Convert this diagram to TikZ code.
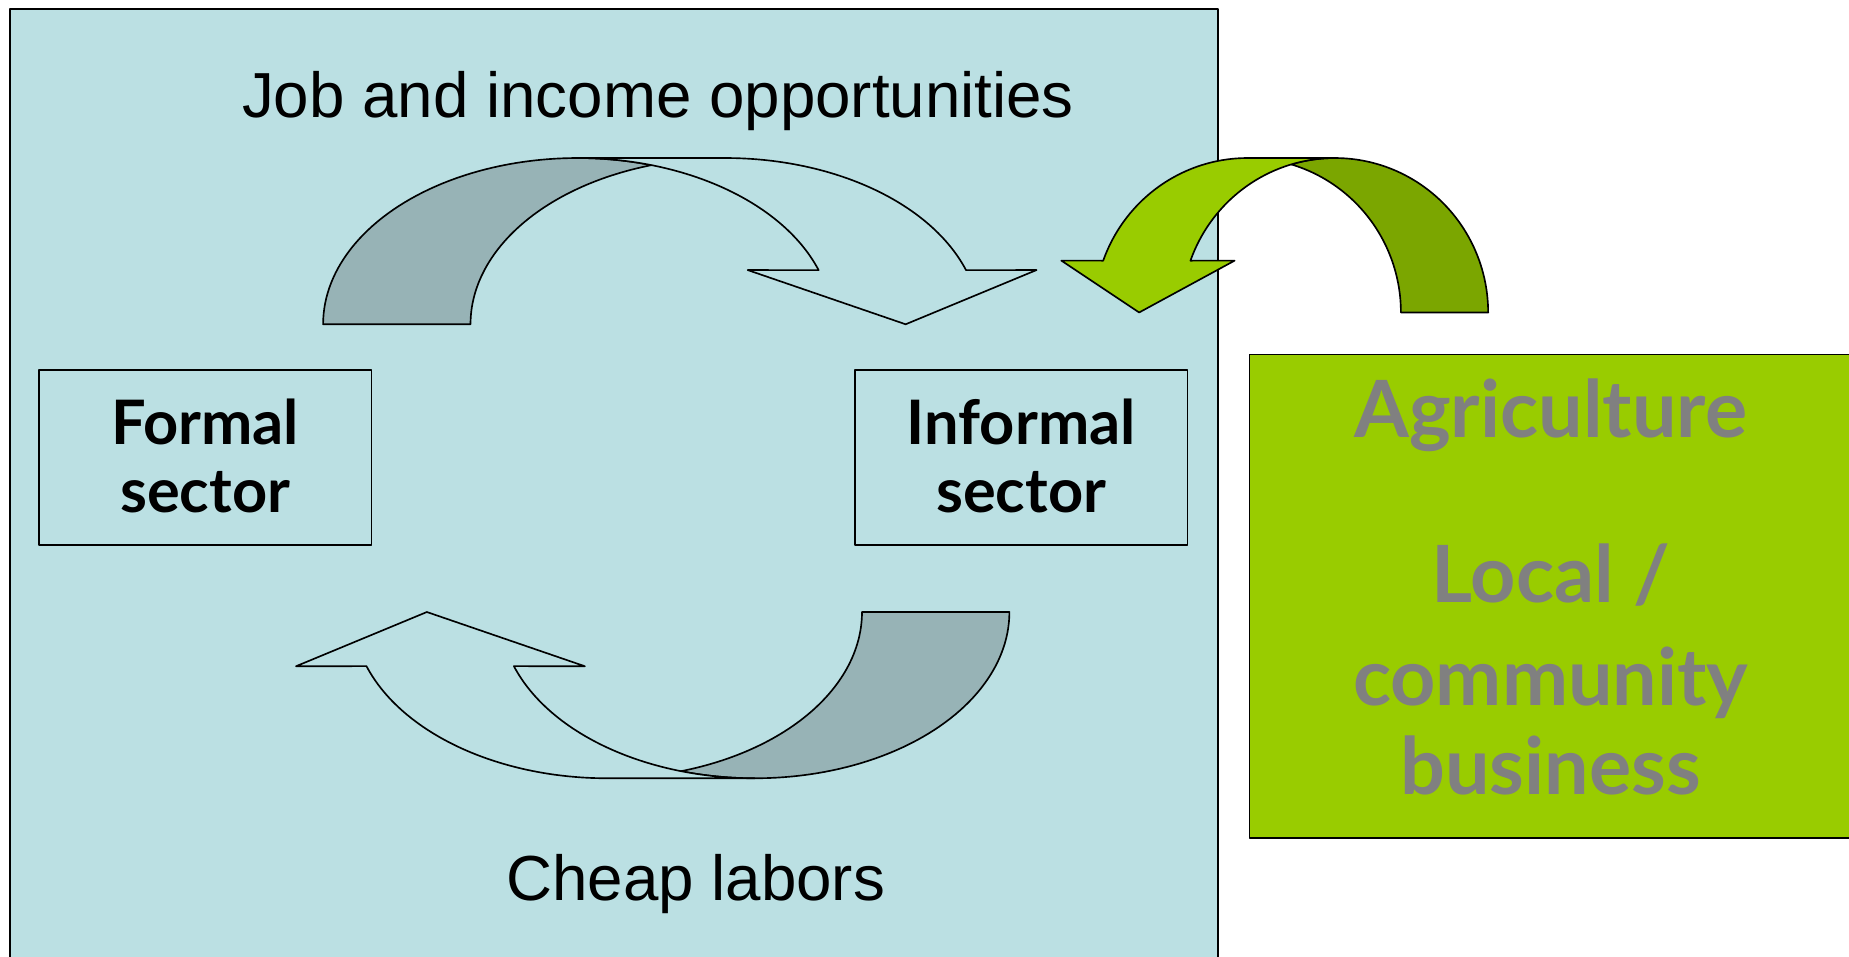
\documentclass[tikz,border=0pt]{standalone}
\usepackage{fontspec}
\setmainfont{Liberation Sans}
\newfontfamily\boxfont{Lato}
\definecolor{bgblue}{HTML}{BBE0E3}
\definecolor{shadeblue}{HTML}{97B3B6}
\definecolor{lgreen}{HTML}{99CC00}
\definecolor{dgreen}{HTML}{7BA600}
\definecolor{txtgray}{HTML}{808080}
\begin{document}
\begin{tikzpicture}[x=1pt,y=-1pt,line join=round,
  outl/.style={draw=black,line width=1.4pt},
  sectorbox/.style={draw=black,line width=1.4pt,fill=bgblue,minimum width=282pt,minimum height=148pt,inner sep=0pt},
  boxtext/.style={font=\boxfont\bfseries\fontsize{52}{58}\selectfont,anchor=base,inner sep=0pt},
  greentext/.style={font=\boxfont\bfseries\fontsize{67}{80}\selectfont,text=txtgray,anchor=base,inner sep=0pt},
  captext/.style={font=\fontsize{54}{62}\selectfont,anchor=base,inner sep=0pt}]
\useasboundingbox (0,0) rectangle (1568,811);
\fill[white] (0,0) rectangle (1568,811);
\begin{scope}
\clip (0,0) rectangle (1568,811);
\node[outl,fill=bgblue,minimum width=1024pt,minimum height=830pt,inner sep=0pt,anchor=north west] (main) at (8,7) {};
\node[outl,fill=lgreen,minimum width=560pt,minimum height=410pt,inner sep=0pt,anchor=north west] (green) at (1059,300) {};
\end{scope}
% boxes
\node[sectorbox] (formal) at (174,388) {};
\node[sectorbox] (informal) at (866,388) {};
\node[boxtext] (f1) at (174,377) {Formal};
\node[boxtext] (f2) at (174,435) {sector};
\node[boxtext] (i1) at (866,377) {Informal};
\node[boxtext] (i2) at (866,435) {sector};
% captions
\node[captext] (job) at (558,100) {Job and income opportunities};
\node[captext] (cheap) at (590,764) {Cheap labors};
% green text
\node[greentext] (agri) at (1315,371) {Agriculture};
\node[greentext] (local) at (1315,511) {Local /};
\node[greentext] (comm) at (1315,598) {community};
\node[greentext] (bus) at (1315,674) {business};
% top curved arrow
\draw[outl,fill=shadeblue] plot[domain=180:73.2,samples=60] ({490+216*cos(\x)},{275-141*sin(\x)})
  -- plot[domain=106.8:180,samples=60] ({615+216*cos(\x)},{275-141*sin(\x)}) -- cycle;
\draw[outl,fill=bgblue] (490,134) -- (615,134)
  -- plot[domain=90:19,samples=60] ({615+216*cos(\x)},{275-141*sin(\x)})
  -- (879,229) -- (768,275) -- (634,229)
  -- plot[domain=19:90,samples=60] ({490+216*cos(\x)},{275-141*sin(\x)}) -- cycle;
% bottom curved arrow (rotated copy)
\begin{scope}[rotate around={180:(565,397)}]
\draw[outl,fill=shadeblue] plot[domain=180:73.2,samples=60] ({490+216*cos(\x)},{275-141*sin(\x)})
  -- plot[domain=106.8:180,samples=60] ({615+216*cos(\x)},{275-141*sin(\x)}) -- cycle;
\draw[outl,fill=bgblue] (490,134) -- (615,134)
  -- plot[domain=90:19,samples=60] ({615+216*cos(\x)},{275-141*sin(\x)})
  -- (879,229) -- (768,275) -- (634,229)
  -- plot[domain=19:90,samples=60] ({490+216*cos(\x)},{275-141*sin(\x)}) -- cycle;
\end{scope}
% green curved arrow
\draw[outl,fill=dgreen] plot[domain=180:73.5,samples=60] ({1132-130*cos(\x)},{265-131*sin(\x)})
  -- plot[domain=106.5:180,samples=60] ({1058-130*cos(\x)},{265-131*sin(\x)}) -- cycle;
\draw[outl,fill=lgreen] (1132,134) -- (1058,134)
  -- plot[domain=90:19.6,samples=60] ({1058-130*cos(\x)},{265-131*sin(\x)})
  -- (900,221) -- (966,265) -- (1047,221)
  -- plot[domain=19.6:90,samples=60] ({1132-130*cos(\x)},{265-131*sin(\x)}) -- cycle;
\end{tikzpicture}
\end{document}
